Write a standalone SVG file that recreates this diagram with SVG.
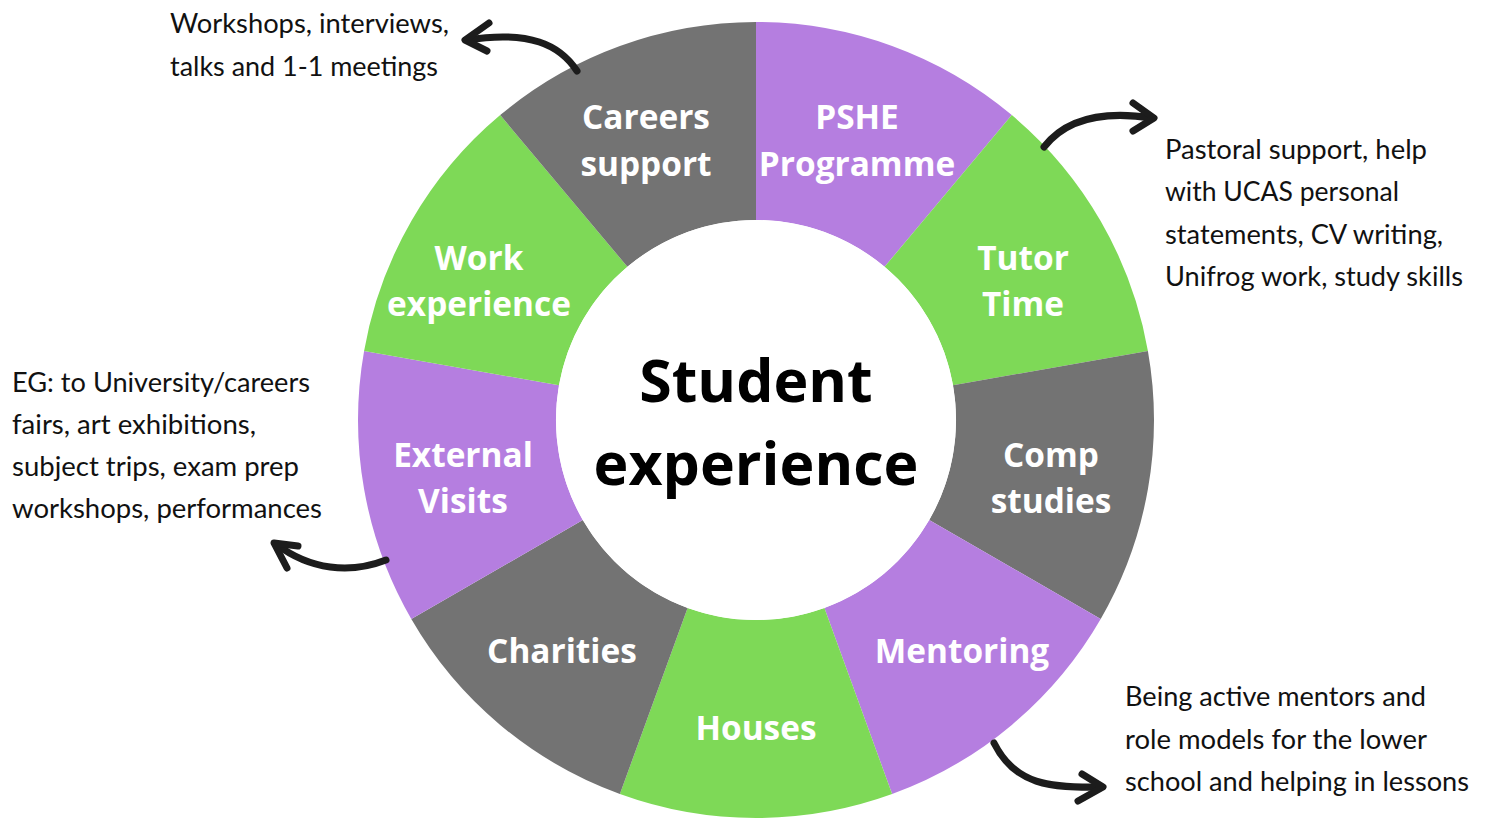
<svg xmlns="http://www.w3.org/2000/svg" width="1485" height="818" viewBox="0 0 1485 818">
  <style>
    .gray { fill: #737373; }
    .purple { fill: #b57ee0; }
    .green { fill: #7ed957; }
    .seg-label { font-family: "Open Sans", "DejaVu Sans", sans-serif; font-weight: 700; font-size: 33.4px; fill: #ffffff; text-anchor: middle; }
    .hub-label { font-family: "Open Sans", "DejaVu Sans", sans-serif; font-weight: 700; font-size: 59px; fill: #000000; text-anchor: middle; }
    .note { font-family: Lato, "Open Sans", sans-serif; font-size: 27px; fill: #111111; }
    .arrow { fill: none; stroke: #1c1c1c; stroke-width: 7; stroke-linecap: round; stroke-linejoin: round; }
  </style>

  <!-- ring: nine 40-degree sectors around (756,420), outer r=398, inner r=200 -->
  <g id="pshe">
    <path class="purple" d="M756,22 A398,398 0 0 1 1011.8,115.1 L884.6,266.8 A200,200 0 0 0 756,220 Z"/>
    <text class="seg-label" x="857" y="129">PSHE</text>
    <text class="seg-label" x="857" y="176">Programme</text>
  </g>
  <g id="tutor-time">
    <path class="green" d="M1011.8,115.1 A398,398 0 0 1 1147.9,350.9 L953,385.3 A200,200 0 0 0 884.6,266.8 Z"/>
    <text class="seg-label" x="1023" y="270">Tutor</text>
    <text class="seg-label" x="1023" y="316">Time</text>
  </g>
  <g id="comp-studies">
    <path class="gray" d="M1147.9,350.9 A398,398 0 0 1 1100.7,619 L929.2,520 A200,200 0 0 0 953,385.3 Z"/>
    <text class="seg-label" x="1051" y="467">Comp</text>
    <text class="seg-label" x="1051" y="513">studies</text>
  </g>
  <g id="mentoring">
    <path class="purple" d="M1100.7,619 A398,398 0 0 1 892.1,794 L824.4,607.9 A200,200 0 0 0 929.2,520 Z"/>
    <text class="seg-label" x="962" y="663">Mentoring</text>
  </g>
  <g id="houses">
    <path class="green" d="M892.1,794 A398,398 0 0 1 619.9,794 L687.6,607.9 A200,200 0 0 0 824.4,607.9 Z"/>
    <text class="seg-label" x="756" y="740">Houses</text>
  </g>
  <g id="charities">
    <path class="gray" d="M619.9,794 A398,398 0 0 1 411.3,619 L582.8,520 A200,200 0 0 0 687.6,607.9 Z"/>
    <text class="seg-label" x="562" y="663">Charities</text>
  </g>
  <g id="external-visits">
    <path class="purple" d="M411.3,619 A398,398 0 0 1 364.1,350.9 L559,385.3 A200,200 0 0 0 582.8,520 Z"/>
    <text class="seg-label" x="463" y="467">External</text>
    <text class="seg-label" x="463" y="513">Visits</text>
  </g>
  <g id="work-experience">
    <path class="green" d="M364.1,350.9 A398,398 0 0 1 500.2,115.1 L627.4,266.8 A200,200 0 0 0 559,385.3 Z"/>
    <text class="seg-label" x="479" y="270">Work</text>
    <text class="seg-label" x="479" y="316">experience</text>
  </g>
  <g id="careers-support">
    <path class="gray" d="M500.2,115.1 A398,398 0 0 1 756,22 L756,220 A200,200 0 0 0 627.4,266.8 Z"/>
    <text class="seg-label" x="646" y="129">Careers</text>
    <text class="seg-label" x="646" y="176">support</text>
  </g>

  <!-- hub -->
  <g id="student-experience">
    <circle cx="756" cy="420" r="200" fill="#ffffff"/>
    <text class="hub-label" x="756" y="402">Student</text>
    <text class="hub-label" x="756" y="485">experience</text>
  </g>

  <!-- curved pointers from sectors out to the notes -->
  <g id="connectors">
    <path class="arrow" d="M577,71 C560,45 530,30 467,40"/>
    <path class="arrow" d="M489,23 L465,40 L487,51"/>

    <path class="arrow" d="M1044,147 C1065,120 1100,110 1152,118"/>
    <path class="arrow" d="M1133,103 L1154,118 L1133,131"/>

    <path class="arrow" d="M386,560 C350,574 310,570 276,544"/>
    <path class="arrow" d="M298,546 L274,543 L287,568"/>

    <path class="arrow" d="M994,743 C1015,785 1050,788 1101,787"/>
    <path class="arrow" d="M1082,774 L1103,787 L1078,801"/>
  </g>

  <!-- notes -->
  <g id="note-careers">
    <text class="note" x="170" y="33" textLength="279" lengthAdjust="spacingAndGlyphs">Workshops, interviews,</text>
    <text class="note" x="170" y="76" textLength="268" lengthAdjust="spacingAndGlyphs">talks and 1-1 meetings</text>
  </g>
  <g id="note-tutor">
    <text class="note" x="1165" y="159" textLength="262" lengthAdjust="spacingAndGlyphs">Pastoral support, help</text>
    <text class="note" x="1165" y="201" textLength="234" lengthAdjust="spacingAndGlyphs">with UCAS personal</text>
    <text class="note" x="1165" y="244" textLength="278" lengthAdjust="spacingAndGlyphs">statements, CV writing,</text>
    <text class="note" x="1165" y="286" textLength="298" lengthAdjust="spacingAndGlyphs">Unifrog work, study skills</text>
  </g>
  <g id="note-visits">
    <text class="note" x="12" y="392" textLength="298" lengthAdjust="spacingAndGlyphs">EG: to University/careers</text>
    <text class="note" x="12" y="434" textLength="244" lengthAdjust="spacingAndGlyphs">fairs, art exhibitions,</text>
    <text class="note" x="12" y="476" textLength="287" lengthAdjust="spacingAndGlyphs">subject trips, exam prep</text>
    <text class="note" x="12" y="518" textLength="310" lengthAdjust="spacingAndGlyphs">workshops, performances</text>
  </g>
  <g id="note-mentoring">
    <text class="note" x="1125" y="706" textLength="301" lengthAdjust="spacingAndGlyphs">Being active mentors and</text>
    <text class="note" x="1125" y="749" textLength="302" lengthAdjust="spacingAndGlyphs">role models for the lower</text>
    <text class="note" x="1125" y="791" textLength="344" lengthAdjust="spacingAndGlyphs">school and helping in lessons</text>
  </g>
</svg>
